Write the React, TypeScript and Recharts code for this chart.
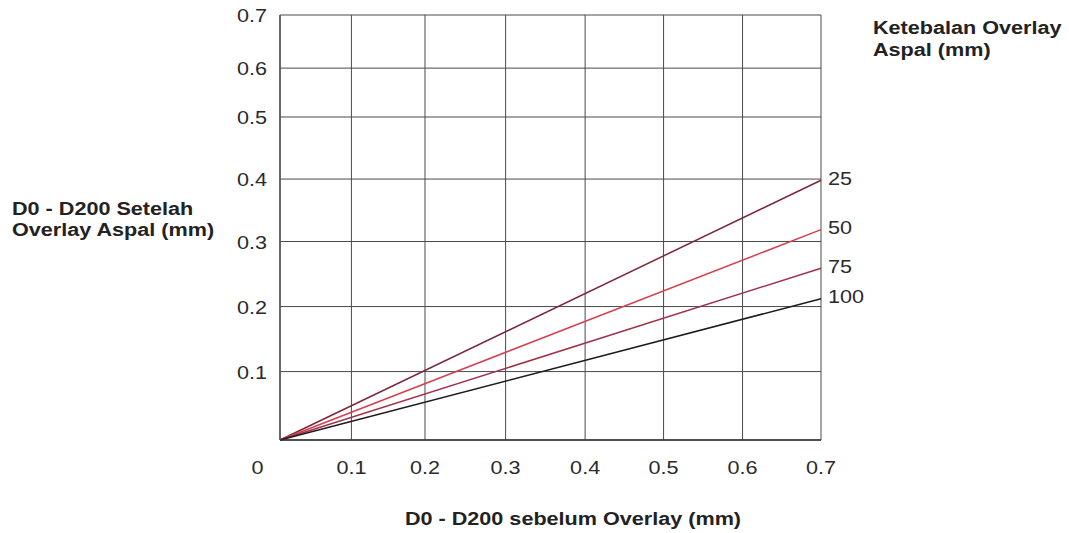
import { LineChart, Line, XAxis, YAxis, CartesianGrid, LabelList } from 'recharts'

const xTicks = [0, 0.1, 0.2, 0.3, 0.4, 0.5, 0.6, 0.7]
const yTicks = [0, 0.1, 0.2, 0.3, 0.4, 0.5, 0.6, 0.7]
// the scanned grid is not evenly spaced: where each tick sits, as a share of the axis length
const xGrid = [0, 0.132, 0.268, 0.417, 0.564, 0.709, 0.855, 1]
const yGrid = [0, 0.161, 0.314, 0.467, 0.614, 0.76, 0.875, 1]

const thickness = ['25', '50', '75', '100']
const before = [0, 0.7]
const after25 = [0, 0.398]
const after50 = [0, 0.319]
const after75 = [0, 0.259]
const after100 = [0, 0.212]

const COLORS = ['#7a2838', '#d4404f', '#a03248', '#1e1a1c']
const FONT = '"Liberation Sans", Arial, sans-serif'

function warp(v: number, ticks: number[], grid: number[]) {
  for (let i = 1; i < ticks.length; i++) {
    if (v <= ticks[i]) {
      const t = (v - ticks[i - 1]) / (ticks[i] - ticks[i - 1])
      return grid[i - 1] + t * (grid[i] - grid[i - 1])
    }
  }
  return grid[grid.length - 1]
}

const series = [after25, after50, after75, after100]
const data = before.map((x, i) => {
  const row: Record<string, number> = { u: warp(x, xTicks, xGrid) }
  series.forEach((s, k) => {
    row['s' + thickness[k]] = warp(s[i], yTicks, yGrid)
  })
  return row
})

const fmt = (v: number) => (v === 0 ? '0' : v.toFixed(1))
const findIdx = (grid: number[], v: number) => grid.findIndex((g) => Math.abs(g - v) < 1e-6)

const XTick = ({ x, y, payload }: any) => {
  const i = findIdx(xGrid, payload.value)
  if (i < 0) return null
  const dx = i === 0 ? -22.5 : 0
  return (
    <text
      transform={`translate(${x + dx},${y + 19.5}) scale(1.2,1)`}
      textAnchor='middle'
      dominantBaseline='central'
      fontFamily={FONT}
      fontSize={18}
      fill='#2a2a2a'
    >
      {fmt(xTicks[i])}
    </text>
  )
}

const YTick = ({ x, y, payload }: any) => {
  const i = findIdx(yGrid, payload.value)
  if (i <= 0) return null
  return (
    <text
      transform={`translate(${x - 5},${y + 1}) scale(1.2,1)`}
      textAnchor='end'
      dominantBaseline='central'
      fontFamily={FONT}
      fontSize={18}
      fill='#2a2a2a'
    >
      {fmt(yTicks[i])}
    </text>
  )
}

const endLabel = (name: string) => (props: any) => {
  if (props.index !== data.length - 1) return null
  return (
    <text
      transform={`translate(${props.x + 7},${props.y - 2}) scale(1.2,1)`}
      dominantBaseline='central'
      fontFamily={FONT}
      fontSize={18}
      fill='#2a2a2a'
    >
      {name}
    </text>
  )
}

const title: React.CSSProperties = {
  position: 'absolute',
  fontFamily: FONT,
  fontWeight: 'bold',
  fontSize: 18,
  lineHeight: '21px',
  color: '#222',
  whiteSpace: 'nowrap',
  transformOrigin: 'left top',
  transform: 'scaleX(1.2)',
}

export default function App() {
  return (
    <div style={{ position: 'absolute', left: 0, top: 0, width: 1069, height: 533, background: '#fff' }}>
      <LineChart width={1069} height={533} data={data} margin={{ top: 15, right: 248, bottom: 63, left: 240 }}>
        <CartesianGrid stroke='#4a4a4a' strokeWidth={1} ticks={undefined} />
        <XAxis
          type='number'
          dataKey='u'
          domain={[0, 1]}
          ticks={xGrid}
          height={30}
          tickLine={false}
          axisLine={{ stroke: '#333', strokeWidth: 1.5 }}
          tick={<XTick />}
          interval={0}
        />
        <YAxis
          type='number'
          domain={[0, 1]}
          ticks={yGrid}
          width={40}
          tickLine={false}
          axisLine={{ stroke: '#555', strokeWidth: 1.5 }}
          tick={<YTick />}
          interval={0}
        />
        {thickness.map((t, k) => (
          <Line
            key={t}
            type='linear'
            dataKey={'s' + t}
            stroke={COLORS[k]}
            strokeWidth={1.5}
            dot={false}
            isAnimationActive={false}
          >
            <LabelList dataKey={'s' + t} content={endLabel(t)} />
          </Line>
        ))}
      </LineChart>
      <div style={{ ...title, left: 12, top: 199 }}>
        D0 - D200 Setelah
        <br />
        Overlay Aspal (mm)
      </div>
      <div style={{ ...title, left: 873, top: 17, lineHeight: '22px' }}>
        Ketebalan Overlay
        <br />
        Aspal (mm)
      </div>
      <div style={{ ...title, left: 573, top: 509, transformOrigin: 'center top', transform: 'translateX(-50%) scaleX(1.2)' }}>
        D0 - D200 sebelum Overlay (mm)
      </div>
    </div>
  )
}
